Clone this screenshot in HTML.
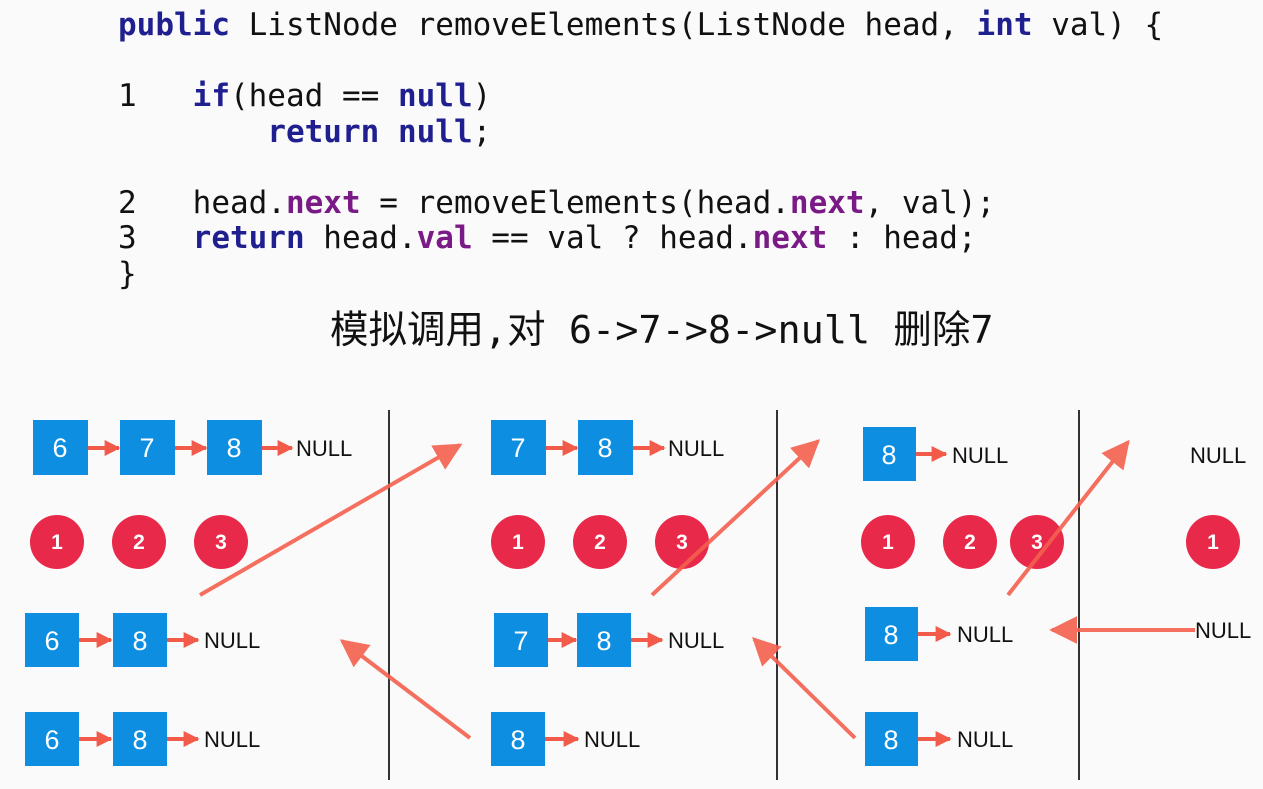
<!DOCTYPE html>
<html><head><meta charset="utf-8"><style>
body{margin:0;width:1263px;height:789px;background:#fafafa;overflow:hidden;position:relative}
.code{position:absolute;left:118px;top:8px;font-family:"DejaVu Sans Mono","Liberation Mono",monospace;font-size:31px;line-height:35.5px;color:#111;white-space:pre}
.k{color:#1f1f8f;font-weight:bold}.p{color:#7a1a86;font-weight:bold}
.t{position:absolute;left:330px;top:306px;font-family:"DejaVu Sans Mono","Noto Sans CJK SC",sans-serif;font-size:38.5px;line-height:50px;color:#111;white-space:pre}
svg{position:absolute;left:0;top:0}
</style></head><body>
<div class="code"><span class="k">public</span> ListNode removeElements(ListNode head, <span class="k">int</span> val) {

1   <span class="k">if</span>(head == <span class="k">null</span>)
        <span class="k">return</span> <span class="k">null</span>;

2   head.<span class="p">next</span> = removeElements(head.<span class="p">next</span>, val);
3   <span class="k">return</span> head.<span class="p">val</span> == val ? head.<span class="p">next</span> : head;
}</div>
<div class="t">模拟调用,对 6->7->8->null 删除7</div>
<svg width="1263" height="789" font-family="Liberation Sans,sans-serif">
<defs>
<marker id="a" viewBox="0 0 10 10" refX="9" refY="5" markerWidth="4" markerHeight="4" orient="auto"><path d="M0,0L10,5L0,10z" fill="#f25a4a"/></marker>
<marker id="b" viewBox="0 0 10 10" refX="9" refY="5" markerWidth="7" markerHeight="7" orient="auto"><path d="M0,0L10,5L0,10z" fill="#f5604f"/></marker>
</defs>
<g stroke="#333" stroke-width="2"><line x1="389" y1="410" x2="389" y2="780"/><line x1="777" y1="410" x2="777" y2="780"/><line x1="1079" y1="410" x2="1079" y2="780"/></g>
<g fill="#0d8ee0">
<rect x="33" y="420" width="55" height="55"/><rect x="120" y="420" width="55" height="55"/><rect x="207" y="420" width="55" height="55"/>
<rect x="25" y="613" width="54" height="54"/><rect x="113" y="613" width="54" height="54"/>
<rect x="25" y="712" width="54" height="54"/><rect x="113" y="712" width="54" height="54"/>
<rect x="491" y="420" width="55" height="55"/><rect x="578" y="420" width="55" height="55"/>
<rect x="494" y="613" width="54" height="54"/><rect x="577" y="613" width="54" height="54"/>
<rect x="491" y="712" width="54" height="54"/>
<rect x="863" y="427" width="53" height="54"/><rect x="865" y="607" width="53" height="54"/><rect x="865" y="712" width="53" height="54"/>
</g>
<g fill="#fff" font-size="27" text-anchor="middle">
<text x="60" y="457">6</text><text x="147" y="457">7</text><text x="234" y="457">8</text>
<text x="52" y="650">6</text><text x="140" y="650">8</text>
<text x="52" y="749">6</text><text x="140" y="749">8</text>
<text x="518" y="457">7</text><text x="605" y="457">8</text>
<text x="521" y="650">7</text><text x="604" y="650">8</text>
<text x="518" y="749">8</text>
<text x="889" y="464">8</text><text x="891" y="644">8</text><text x="891" y="749">8</text>
</g>
<g stroke="#f25a4a" stroke-width="4" marker-end="url(#a)">
<line x1="88" y1="448" x2="119" y2="448"/><line x1="175" y1="448" x2="206" y2="448"/><line x1="262" y1="448" x2="292" y2="448"/>
<line x1="79" y1="640" x2="111" y2="640"/><line x1="167" y1="640" x2="198" y2="640"/>
<line x1="79" y1="739" x2="111" y2="739"/><line x1="167" y1="739" x2="198" y2="739"/>
<line x1="546" y1="448" x2="577" y2="448"/><line x1="633" y1="448" x2="664" y2="448"/>
<line x1="548" y1="640" x2="576" y2="640"/><line x1="631" y1="640" x2="662" y2="640"/>
<line x1="545" y1="739" x2="578" y2="739"/>
<line x1="916" y1="454" x2="946" y2="454"/><line x1="918" y1="634" x2="950" y2="634"/><line x1="918" y1="739" x2="950" y2="739"/>
</g>
<g fill="#111" font-size="22">
<text x="296" y="456">NULL</text><text x="204" y="648">NULL</text><text x="204" y="747">NULL</text>
<text x="668" y="456">NULL</text><text x="668" y="648">NULL</text><text x="584" y="747">NULL</text>
<text x="952" y="463">NULL</text><text x="957" y="642">NULL</text><text x="957" y="747">NULL</text>
<text x="1190" y="463">NULL</text><text x="1195" y="638">NULL</text>
</g>
<g fill="#e8294a">
<circle cx="57" cy="542" r="27"/><circle cx="139" cy="542" r="27"/><circle cx="221" cy="542" r="27"/>
<circle cx="518" cy="542" r="27"/><circle cx="600" cy="542" r="27"/><circle cx="682" cy="542" r="27"/>
<circle cx="888" cy="542" r="27"/><circle cx="970" cy="542" r="27"/><circle cx="1037" cy="542" r="27"/>
<circle cx="1213" cy="542" r="27"/>
</g>
<g fill="#fff" font-size="21" text-anchor="middle" font-weight="bold">
<text x="57" y="549">1</text><text x="139" y="549">2</text><text x="221" y="549">3</text>
<text x="518" y="549">1</text><text x="600" y="549">2</text><text x="682" y="549">3</text>
<text x="888" y="549">1</text><text x="970" y="549">2</text><text x="1037" y="549">3</text>
<text x="1213" y="549">1</text>
</g>
<g stroke="#f5604f" stroke-width="4" opacity="0.9" marker-end="url(#b)" fill="none">
<line x1="200" y1="595" x2="460" y2="445"/>
<line x1="470" y1="738" x2="342" y2="641"/>
<line x1="652" y1="595" x2="818" y2="441"/>
<line x1="855" y1="738" x2="754" y2="639"/>
<line x1="1008" y1="595" x2="1128" y2="442"/>
<line x1="1195" y1="630" x2="1052" y2="630"/>
</g>
</svg>
</body></html>
